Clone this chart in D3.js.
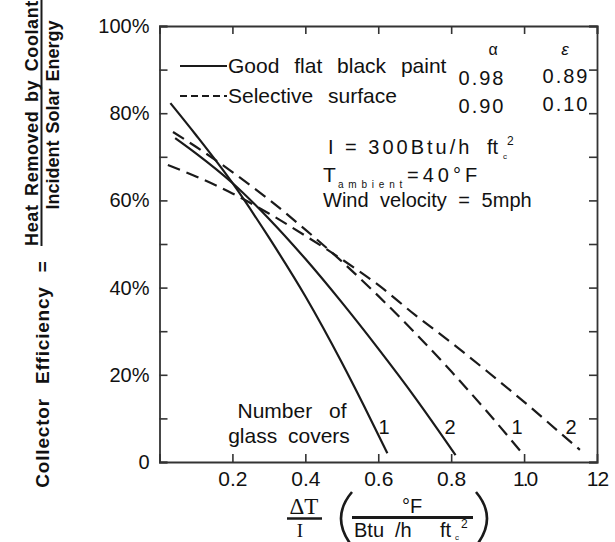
<!DOCTYPE html>
<html>
<head>
<meta charset="utf-8">
<script src="https://cdn.jsdelivr.net/npm/d3@7"></script>
<style>
  html, body { margin: 0; padding: 0; background: #fff; }
  svg { display: block; font-family: "Liberation Sans", Arial, sans-serif; }
  text { fill: #111; }
</style>
</head>
<body>
<svg id="chart" width="615" height="542"></svg>
<script>
// Collector efficiency vs. ΔT/I for two absorber coatings and 1 or 2 glass covers
const xTicks = [0.2, 0.4, 0.6, 0.8, 1.0, 1.2];
const xTickLabels = ["0.2", "0.4", "0.6", "0.8", "1.0", "12"];
const yTicks = [0, 10, 20, 30, 40, 50, 60, 70, 80, 90, 100];
const yTickLabels = ["0", "", "20%", "", "40%", "", "60%", "", "80%", "", "100%"];

// Good flat black paint (solid), 1 and 2 glass covers
const paintOneX = [0.03, 0.1, 0.2, 0.3, 0.4, 0.5, 0.56, 0.625];
const paintOneY = [82.3, 75.0, 64.0, 51.5, 38.0, 22.8, 13.0, 2.0];
const paintTwoX = [0.043, 0.1, 0.2, 0.3, 0.4, 0.5, 0.6, 0.7, 0.812];
const paintTwoY = [74.3, 70.8, 64.0, 55.8, 46.6, 36.6, 26.0, 14.9, 1.6];
// Selective surface (dashed), 1 and 2 glass covers
const selOneX = [0.037, 0.1, 0.2, 0.3, 0.4, 0.5, 0.6, 0.7, 0.8, 0.9, 0.995];
const selOneY = [75.7, 72.3, 66.5, 60.2, 53.3, 46.0, 38.1, 29.7, 20.8, 11.4, 2.0];
const selTwoX = [0.023, 0.1, 0.2, 0.3, 0.4, 0.5, 0.6, 0.7, 0.8, 0.9, 1.0, 1.1, 1.153];
const selTwoY = [68.1, 65.5, 61.6, 57.0, 51.9, 46.5, 40.6, 33.8, 27.4, 20.7, 13.8, 6.6, 2.8];

const curveNames = ["paint-1", "paint-2", "sel-1", "sel-2"];
const coverLabels = ["1", "2", "1", "2"];
const legendLabels = ["Good flat black paint", "Selective surface"];
const alphaValues = ["0.98", "0.90"];
const epsilonValues = ["0.89", "0.10"];

const svg = d3.select("#chart");
const x = d3.scaleLinear().domain([0, 1.2]).range([159.5, 597]);
const y = d3.scaleLinear().domain([0, 100]).range([462, 26]);

const ink = "#1a1a1a";

// Frame axes with inward ticks
const gL = svg.append("g").attr("transform", `translate(${x(0)},0)`)
  .call(d3.axisLeft(y).tickValues(yTicks).tickSize(-8).tickPadding(10)
    .tickFormat((d, i) => yTickLabels[i]));
const gB = svg.append("g").attr("transform", `translate(0,${y(0)})`)
  .call(d3.axisBottom(x).tickValues(xTicks).tickSize(-8).tickPadding(9)
    .tickFormat((d, i) => xTickLabels[i]));
const gT = svg.append("g").attr("transform", `translate(0,${y(100)})`)
  .call(d3.axisTop(x).tickValues(xTicks).tickSize(-8).tickFormat(""));
const gR = svg.append("g").attr("transform", `translate(${x(1.2)},0)`)
  .call(d3.axisRight(y).tickValues(yTicks).tickSize(-8).tickFormat(""));

[gL, gB, gT, gR].forEach(g => {
  g.select(".domain").attr("stroke", "#333").attr("stroke-width", 1.8);
  g.selectAll(".tick line").attr("stroke", "#333").attr("stroke-width", 1.6);
  g.selectAll(".tick text").attr("fill", "#111")
    .style("font-family", "'Liberation Sans', Arial, sans-serif");
});
gL.selectAll(".tick text").style("font-size", "20px");
gB.selectAll(".tick text").style("font-size", "21px")
  .style("letter-spacing", (d, i) => xTickLabels[i] === "1.0" ? "-2px" : (xTickLabels[i] === "12" ? "-1px" : "0px"));
gB.selectAll(".tick").filter(d => d === 1.2).select("line").remove();

// Curves
const line = d3.line().x(d => x(d[0])).y(d => y(d[1])).curve(d3.curveMonotoneX);
const zipXY = (xs, ys) => xs.map((v, i) => [v, ys[i]]);
const series = [
  { pts: zipXY(paintOneX, paintOneY), dash: null },
  { pts: zipXY(paintTwoX, paintTwoY), dash: null },
  { pts: zipXY(selOneX, selOneY), dash: "13,7" },
  { pts: zipXY(selTwoX, selTwoY), dash: "13,7" }
];
svg.append("g").selectAll("path").data(series).join("path")
  .attr("class", (d, i) => curveNames[i])
  .attr("d", d => line(d.pts))
  .attr("fill", "none")
  .attr("stroke", ink)
  .attr("stroke-width", 2.2)
  .attr("stroke-dasharray", d => d.dash);

// Cover-count labels next to each curve end
const coverLabelX = [384, 450, 517, 571];
svg.append("g").selectAll("text").data(coverLabels).join("text")
  .attr("x", (d, i) => coverLabelX[i]).attr("y", 434)
  .attr("text-anchor", "middle").style("font-size", "20px").text(d => d);

svg.append("text").attr("x", 292).attr("y", 418).attr("text-anchor", "middle")
  .style("font-size", "21px").style("word-spacing", "11px").text("Number of");
svg.append("text").attr("x", 289).attr("y", 443).attr("text-anchor", "middle")
  .style("font-size", "21px").style("word-spacing", "5px").text("glass covers");

// Legend
const legend = svg.append("g");
legendLabels.forEach((lab, i) => {
  const ly = [66, 96][i];
  legend.append("line").attr("x1", 180).attr("x2", 227).attr("y1", ly).attr("y2", ly)
    .attr("stroke", ink).attr("stroke-width", 2.2)
    .attr("stroke-dasharray", i === 1 ? "7,4" : null);
  legend.append("text").attr("x", 228).attr("y", ly + 7)
    .style("font-size", "21px").style("word-spacing", "9px").text(lab);
});

// Absorptance / emittance table
legend.append("text").attr("x", 493).attr("y", 55).attr("text-anchor", "middle")
  .style("font-size", "16px").text("α");
legend.append("text").attr("x", 565).attr("y", 55).attr("text-anchor", "middle")
  .style("font-size", "17px").style("font-style", "italic").text("ε");
alphaValues.forEach((v, i) => {
  legend.append("text").attr("x", 482).attr("y", [85, 113][i]).attr("text-anchor", "middle")
    .style("font-size", "20px").style("letter-spacing", "2px").text(v);
});
epsilonValues.forEach((v, i) => {
  legend.append("text").attr("x", 566).attr("y", [83, 111][i]).attr("text-anchor", "middle")
    .style("font-size", "20px").style("letter-spacing", "2px").text(v);
});

// Operating conditions
const cond = svg.append("g");
cond.append("text").attr("x", 328).attr("y", 154).style("font-size", "20px")
  .style("letter-spacing", "3px").text("I = 300Btu/h");
cond.append("text").attr("x", 487).attr("y", 154).style("font-size", "20px").text("ft");
cond.append("text").attr("x", 503).attr("y", 159).style("font-size", "8px").text("c");
cond.append("text").attr("x", 507).attr("y", 145).style("font-size", "12px").text("2");

cond.append("text").attr("x", 323).attr("y", 182).style("font-size", "21px").text("T");
cond.append("text").attr("x", 338).attr("y", 188).style("font-size", "10px")
  .style("letter-spacing", "4.8px").text("ambient");
cond.append("text").attr("x", 407).attr("y", 182).style("font-size", "20px")
  .style("letter-spacing", "4px").text("=40°F");
cond.append("text").attr("x", 323).attr("y", 207).style("font-size", "20px")
  .style("word-spacing", "6px").text("Wind velocity = 5mph");

// X axis title: ΔT / I ( °F / Btu/h ft_c^2 )
const xt = svg.append("g");
xt.append("text").attr("x", 304).attr("y", 514).attr("text-anchor", "middle")
  .style("font-family", "'Liberation Serif', 'Times New Roman', serif")
  .style("font-size", "23px").text("ΔT");
xt.append("line").attr("x1", 287).attr("x2", 322).attr("y1", 518.5).attr("y2", 518.5)
  .attr("stroke", ink).attr("stroke-width", 2.5);
xt.append("text").attr("x", 300).attr("y", 537).attr("text-anchor", "middle")
  .style("font-family", "'Liberation Serif', 'Times New Roman', serif")
  .style("font-size", "19px").text("I");
xt.append("path").attr("d", "M352,492 Q330,518 352,546").attr("fill", "none")
  .attr("stroke", ink).attr("stroke-width", 2.6);
xt.append("path").attr("d", "M476,492 Q498,518 476,546").attr("fill", "none")
  .attr("stroke", ink).attr("stroke-width", 2.6);
xt.append("text").attr("x", 412).attr("y", 513).attr("text-anchor", "middle")
  .style("font-size", "20px").text("°F");
xt.append("line").attr("x1", 352).attr("x2", 473).attr("y1", 517.5).attr("y2", 517.5)
  .attr("stroke", ink).attr("stroke-width", 3);
xt.append("text").attr("x", 354).attr("y", 537).style("font-size", "20px").text("Btu");
xt.append("text").attr("x", 395).attr("y", 537).style("font-size", "20px").text("/h");
xt.append("text").attr("x", 440).attr("y", 537).style("font-size", "20px").text("ft");
xt.append("text").attr("x", 455).attr("y", 540).style("font-size", "8px").text("c");
xt.append("text").attr("x", 461).attr("y", 528).style("font-size", "12px").text("2");

// Y axis title (rotated)
const yt = svg.append("g").style("font-weight", "bold");
yt.append("text").attr("transform", "translate(49,374) rotate(-90)")
  .attr("text-anchor", "middle").style("font-size", "19px").style("letter-spacing", "0.8px")
  .style("word-spacing", "8px").text("Collector Efficiency =");
yt.append("text").attr("transform", "translate(38,123) rotate(-90)")
  .attr("text-anchor", "middle").style("font-size", "18px").style("letter-spacing", "0.6px")
  .style("word-spacing", "3px").text("Heat Removed by Coolant");
yt.append("line").attr("x1", 41.5).attr("x2", 41.5).attr("y1", 0).attr("y2", 246)
  .attr("stroke", ink).attr("stroke-width", 2);
yt.append("text").attr("transform", "translate(59,115) rotate(-90)")
  .attr("text-anchor", "middle").style("font-size", "18px")
  .style("word-spacing", "2px").text("Incident Solar Energy");
</script>
</body>
</html>
